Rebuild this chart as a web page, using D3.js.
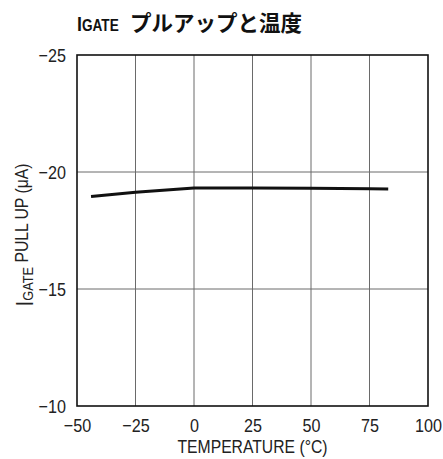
<!DOCTYPE html>
<html>
<head>
<meta charset="utf-8">
<script src="https://cdn.jsdelivr.net/npm/d3@7"></script>
<style>
  body { margin: 0; background: #fff; }
  svg { display: block; }
  .tick text { font-family: "Liberation Sans", Arial, sans-serif; font-size: 19px; fill: #222; }
</style>
</head>
<body>
<svg width="443" height="459"></svg>
<script>
const temps = [-44, -25, 0, 25, 50, 75, 83];
const pullUp = [-18.95, -19.13, -19.32, -19.32, -19.31, -19.28, -19.27];
const xTicks = [-50, -25, 0, 25, 50, 75, 100];
const yTicks = [-25, -20, -15, -10];

const svg = d3.select("svg");
const pl = 77, pr = 428, pt = 55, pb = 406;
const narrow = 0.85;   // no condensed font installed, squeeze Liberation Sans instead
const sans = "'Liberation Sans', Arial, sans-serif";

const x = d3.scaleLinear().domain([-50, 100]).range([pl, pr]);
const y = d3.scaleLinear().domain([-25, -10]).range([pt, pb]);

// grid
svg.append("g")
  .selectAll("line")
  .data(xTicks.slice(1, -1))
  .enter().append("line")
    .attr("x1", d => x(d)).attr("x2", d => x(d))
    .attr("y1", pt).attr("y2", pb)
    .attr("stroke", "#6a6a6a").attr("stroke-width", 1);

svg.append("g")
  .selectAll("line")
  .data(yTicks.slice(1, -1))
  .enter().append("line")
    .attr("x1", pl).attr("x2", pr)
    .attr("y1", d => y(d)).attr("y2", d => y(d))
    .attr("stroke", "#6a6a6a").attr("stroke-width", 1);

svg.append("rect")
  .attr("x", pl).attr("y", pt)
  .attr("width", pr - pl).attr("height", pb - pt)
  .attr("fill", "none")
  .attr("stroke", "#111")
  .attr("stroke-width", 1.6);

// axes, labels only
svg.append("g")
  .attr("transform", "translate(0," + pb + ")")
  .call(d3.axisBottom(x).tickValues(xTicks).tickSize(0).tickPadding(13))
  .call(g => g.select(".domain").remove())
  .call(g => g.selectAll("text").attr("transform", "scale(" + narrow + ",1)"));

svg.append("g")
  .attr("transform", "translate(" + pl + ",0)")
  .call(d3.axisLeft(y).tickValues(yTicks).tickSize(0).tickPadding(13))
  .call(g => g.select(".domain").remove())
  .call(g => g.selectAll("text").attr("transform", "scale(" + narrow + ",1)"));

// curve
const line = d3.line()
  .x((d, i) => x(temps[i]))
  .y(d => y(d));

svg.append("path")
  .datum(pullUp)
  .attr("d", line)
  .attr("fill", "none")
  .attr("stroke", "#111")
  .attr("stroke-width", 3)
  .attr("stroke-linejoin", "round");

// axis titles
svg.append("g")
  .attr("transform", "translate(" + x(25) + ",453) scale(" + narrow + ",1)")
  .append("text")
    .attr("text-anchor", "middle")
    .style("font-family", sans)
    .style("font-size", "18.5px")
    .attr("fill", "#222")
    .text("TEMPERATURE (°C)");

const yl = svg.append("g")
  .attr("transform", "translate(33,235) rotate(-90) scale(" + narrow + ",1)")
  .append("text")
    .attr("text-anchor", "middle")
    .style("font-family", sans)
    .attr("fill", "#222");
yl.append("tspan").style("font-size", "24px").text("I");
yl.append("tspan").style("font-size", "15px").text("GATE");
yl.append("tspan").attr("dy", -5.5).style("font-size", "18.5px").text(" PULL UP (μA)");

// title
const t = svg.append("g")
  .attr("transform", "translate(" + pl + ",31) scale(" + narrow + ",1)")
  .append("text")
    .style("font-family", sans)
    .style("font-weight", "bold")
    .attr("fill", "#111");
t.append("tspan").style("font-size", "21px").text("I");
t.append("tspan").style("font-size", "16px").text("GATE");

svg.append("text")
  .attr("x", 130).attr("y", 31)
  .style("font-family", "'Noto Sans CJK JP', sans-serif")
  .style("font-weight", "bold")
  .style("font-size", "21.5px")
  .attr("fill", "#111")
  .text("プルアップと温度");
</script>
</body>
</html>
